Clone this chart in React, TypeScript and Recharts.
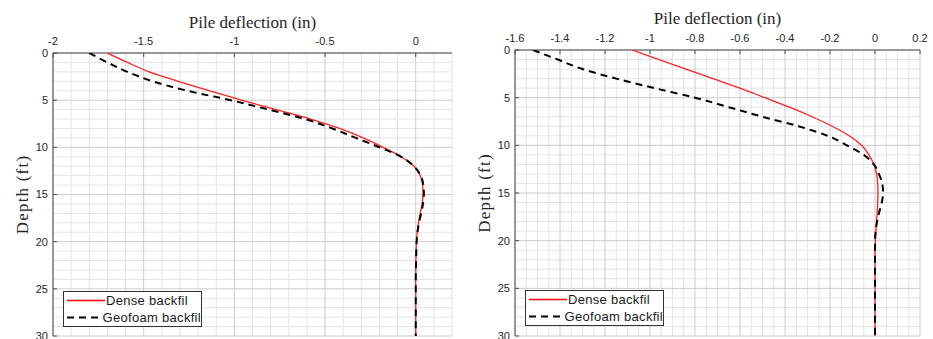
import React from 'react'
import { ScatterChart, Scatter, XAxis, YAxis, ReferenceLine, Legend, Label } from 'recharts'

// depth (ft) at which each deflection value is read
const depths = [0, 1, 2, 3, 4, 5, 6, 7, 8, 9, 10, 11, 12, 13, 14, 15, 16, 17, 18, 19, 20, 22, 24, 26, 28, 30]

// left panel, pile deflection (in)
const denseLeft = [
  -1.7, -1.59, -1.47, -1.31, -1.14, -0.96, -0.77, -0.58, -0.42, -0.29, -0.18, -0.08, -0.01, 0.025, 0.038, 0.04,
  0.035, 0.025, 0.015, 0.008, 0.004, 0.001, 0, 0, 0, 0,
]
const geofoamLeft = [
  -1.8, -1.7, -1.59, -1.45, -1.26, -1.02, -0.81, -0.61, -0.46, -0.33, -0.2, -0.08, -0.01, 0.027, 0.042, 0.045,
  0.04, 0.03, 0.018, 0.01, 0.005, 0.002, 0, 0, 0, 0,
]

// right panel
const denseRight = [
  -1.08, -0.96, -0.84, -0.72, -0.6, -0.49, -0.38, -0.28, -0.19, -0.115, -0.06, -0.027, -0.005, 0.007, 0.012, 0.013,
  0.012, 0.01, 0.007, 0.004, 0.002, 0, 0, 0, 0, 0,
]
const geofoamRight = [
  -1.52, -1.41, -1.3, -1.15, -0.98, -0.8, -0.65, -0.5, -0.34, -0.21, -0.125, -0.05, -0.005, 0.017, 0.032, 0.036,
  0.03, 0.019, 0.009, 0.003, 0, 0, 0, 0, 0, 0,
]

const leftTicks = [-2, -1.5, -1, -0.5, 0]
const rightTicks = [-1.6, -1.4, -1.2, -1, -0.8, -0.6, -0.4, -0.2, 0, 0.2]
const depthTicks = [0, 5, 10, 15, 20, 25, 30]

const seriesNames = ['Dense backfil', 'Geofoam backfil']

// grid helper (not data)
const steps = (from: number, to: number, step: number) => {
  const out: number[] = []
  const n = Math.round((to - from) / step)
  for (let i = 0; i <= n; i++) out.push(+(from + i * step).toFixed(4))
  return out
}

const toPoints = (vals: number[]) => depths.map((d, i) => ({ x: vals[i], y: d }))

const AXIS = '#4d4d4d'
const TICK_FONT = { fontFamily: 'Liberation Sans, Arial, sans-serif', fontSize: 11, fill: '#262626' }
const noDot = () => <g />

function LegendBox() {
  const row = (i: number) => (
    <div style={{ display: 'flex', alignItems: 'center', height: 17 }}>
      <svg width={42} height={17}>
        <line
          x1={3}
          x2={41}
          y1={8.5}
          y2={8.5}
          stroke={i === 0 ? '#ff0000' : '#000'}
          strokeWidth={i === 0 ? 1.3 : 2}
          strokeDasharray={i === 0 ? undefined : '7 5'}
        />
      </svg>
      <span>{seriesNames[i]}</span>
    </div>
  )
  return (
    <div
      style={{
        width: 137,
        height: 34,
        border: '1px solid #333',
        background: '#fff',
        fontFamily: 'Liberation Sans, Arial, sans-serif',
        fontSize: 13,
        letterSpacing: 0.3,
        color: '#1a1a1a',
        lineHeight: '17px',
        whiteSpace: 'nowrap',
      }}
    >
      {row(0)}
      {row(1)}
    </div>
  )
}

interface PanelProps {
  width: number
  plotLeft: number
  plotTop: number
  marginRight: number
  domain: [number, number]
  ticks: number[]
  minorStep: number
  dense: number[]
  geofoam: number[]
  titleOffset: number
  depthLabelX: number
  legendLeft: number
  legendTop: number
}

function Panel(p: PanelProps) {
  const majorX = p.ticks
  const minorX = steps(p.domain[0], p.domain[1], p.minorStep).filter(
    (v) => !majorX.some((m) => Math.abs(m - v) < 1e-6),
  )
  const minorY = steps(0, 30, 1).filter((v) => v % 5 !== 0)

  return (
    <ScatterChart
      width={p.width}
      height={339}
      margin={{ top: 0, right: p.marginRight, bottom: 3, left: 0 }}
    >
      <XAxis
        type="number"
        dataKey="x"
        orientation="top"
        domain={p.domain}
        ticks={p.ticks}
        allowDataOverflow
        height={p.plotTop}
        axisLine={{ stroke: AXIS }}
        tickLine={{ stroke: AXIS }}
        tickSize={-4}
        tickMargin={12}
        tick={TICK_FONT}
        interval={0}
      >
        <Label
          value="Pile deflection (in)"
          position="insideTop"
          offset={p.titleOffset}
          fontFamily="Liberation Serif, Times New Roman, serif"
          fontSize={17}
          fill="#262626"
        />
      </XAxis>
      <XAxis
        xAxisId="b"
        type="number"
        orientation="bottom"
        domain={p.domain}
        ticks={p.ticks}
        allowDataOverflow
        height={0}
        axisLine={{ stroke: AXIS }}
        tickLine={{ stroke: AXIS }}
        tickSize={-4}
        tick={false}
      />
      <YAxis
        type="number"
        dataKey="y"
        domain={[0, 30]}
        reversed
        ticks={depthTicks}
        allowDataOverflow
        width={p.plotLeft}
        axisLine={{ stroke: AXIS }}
        tickLine={{ stroke: AXIS }}
        tickSize={-4}
        tickMargin={9}
        tick={TICK_FONT}
        interval={0}
      >
        <Label
          content={({ viewBox }: any) => {
            const cx = p.depthLabelX
            const cy = viewBox.y + viewBox.height / 2
            return (
              <text
                x={cx}
                y={cy}
                transform={`rotate(-90 ${cx} ${cy})`}
                textAnchor="middle"
                dominantBaseline="central"
                fontFamily="Liberation Serif, Times New Roman, serif"
                fontSize={17}
                letterSpacing={1.2}
                fill="#262626"
              >
                Depth (ft)
              </text>
            )
          }}
        />
      </YAxis>
      <YAxis
        yAxisId="r"
        type="number"
        orientation="right"
        domain={[0, 30]}
        reversed
        ticks={depthTicks}
        allowDataOverflow
        width={0}
        axisLine={{ stroke: AXIS }}
        tickLine={{ stroke: AXIS }}
        tickSize={-4}
        tick={false}
      />

      {minorX.map((v) => (
        <ReferenceLine key={'mx' + v} x={v} stroke="#e4e4e4" strokeWidth={1} />
      ))}
      {minorY.map((v) => (
        <ReferenceLine key={'my' + v} y={v} stroke="#e4e4e4" strokeWidth={1} />
      ))}
      {majorX.map((v) => (
        <ReferenceLine key={'Mx' + v} x={v} stroke="#cccccc" strokeWidth={1} />
      ))}
      {depthTicks.map((v) => (
        <ReferenceLine key={'My' + v} y={v} stroke="#cccccc" strokeWidth={1} />
      ))}

      <Scatter
        name={seriesNames[0]}
        data={toPoints(p.dense)}
        fill="#ff0000"
        shape={noDot}
        line={{ stroke: '#ff2020', strokeWidth: 1.3 }}
        lineJointType="monotoneY"
        isAnimationActive={false}
      />
      <Scatter
        name={seriesNames[1]}
        data={toPoints(p.geofoam)}
        fill="#000"
        shape={noDot}
        line={{ stroke: '#000', strokeWidth: 2, strokeDasharray: '7 5' }}
        lineJointType="monotoneY"
        isAnimationActive={false}
      />
      <Legend
        layout="vertical"
        align="center"
        verticalAlign="middle"
        content={() => <LegendBox />}
        wrapperStyle={{ left: p.legendLeft, top: p.legendTop, width: 139, height: 36 }}
      />
    </ScatterChart>
  )
}

export default function App() {
  return (
    <div
      style={{
        position: 'absolute',
        left: 0,
        top: 0,
        width: 933,
        height: 339,
        display: 'flex',
        background: '#fff',
        overflow: 'hidden',
      }}
    >
      <Panel
        width={466}
        plotLeft={53}
        plotTop={53}
        marginRight={14}
        domain={[-2, 0.2]}
        ticks={leftTicks}
        minorStep={0.1}
        dense={denseLeft}
        geofoam={geofoamLeft}
        titleOffset={16}
        depthLabelX={22}
        legendLeft={63}
        legendTop={291}
      />
      <Panel
        width={467}
        plotLeft={49}
        plotTop={50}
        marginRight={13}
        domain={[-1.6, 0.2]}
        ticks={rightTicks}
        minorStep={0.05}
        dense={denseRight}
        geofoam={geofoamRight}
        titleOffset={12}
        depthLabelX={18}
        legendLeft={59}
        legendTop={290}
      />
    </div>
  )
}
